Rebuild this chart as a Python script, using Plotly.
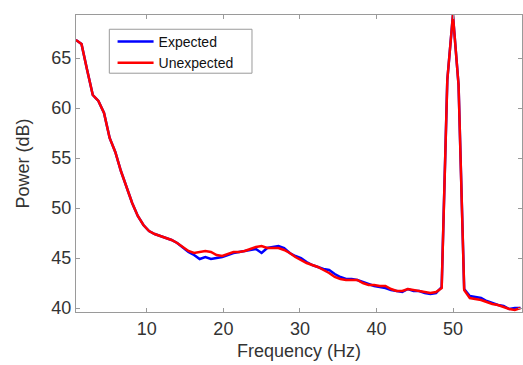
import plotly.graph_objects as go

freq = [0.735, 1.47, 2.205, 2.94, 3.675, 4.41, 5.145, 5.88, 6.615, 7.35,
        8.085, 8.82, 9.555, 10.29, 11.025, 11.76, 12.495, 13.23, 13.965, 14.7,
        15.435, 16.17, 16.905, 17.64, 18.375, 19.11, 19.845, 20.58, 21.315, 22.05,
        22.785, 23.52, 24.255, 24.99, 25.725, 26.46, 27.195, 27.93, 28.665, 29.4,
        30.135, 30.87, 31.605, 32.34, 33.075, 33.81, 34.545, 35.28, 36.015, 36.75,
        37.485, 38.22, 38.955, 39.69, 40.425, 41.16, 41.895, 42.63, 43.365, 44.1,
        44.835, 45.57, 46.305, 47.04, 47.775, 48.51, 49.245, 49.98, 50.715, 51.45,
        52.185, 52.92, 53.655, 54.39, 55.125, 55.86, 56.595, 57.33, 58.065, 58.8]

expected = [66.8, 66.4, 63.8, 61.3, 60.7, 59.5, 57.0, 55.6, 53.7, 52.0,
            50.5, 49.2, 48.3, 47.7, 47.4, 47.2, 47.0, 46.8, 46.5, 46.0,
            45.6, 45.3, 44.9, 45.1, 44.9, 45.0, 45.1, 45.3, 45.5, 45.6,
            45.7, 45.8, 45.9, 45.5, 46.0, 46.1, 46.2, 46.0, 45.5, 45.2,
            45.0, 44.6, 44.3, 44.1, 43.9, 43.8, 43.4, 43.1, 42.9, 42.9,
            42.8, 42.6, 42.4, 42.2, 42.1, 42.0, 41.8, 41.7, 41.6, 41.9,
            41.7, 41.7, 41.5, 41.4, 41.5, 42.1, 62.8, 69.3, 62.3, 41.9,
            41.2, 41.1, 41.0, 40.7, 40.5, 40.3, 40.2, 39.9, 40.0, 40.0]

unexpected = [66.8, 66.4, 63.8, 61.3, 60.7, 59.5, 57.0, 55.6, 53.7, 52.0,
              50.5, 49.2, 48.3, 47.7, 47.4, 47.2, 47.0, 46.8, 46.5, 46.1,
              45.7, 45.5, 45.6, 45.7, 45.6, 45.3, 45.2, 45.4, 45.6, 45.6,
              45.7, 45.9, 46.1, 46.2, 46.0, 46.0, 46.0, 45.8, 45.5, 45.1,
              44.8, 44.5, 44.3, 44.1, 43.8, 43.5, 43.1, 42.9, 42.8, 42.8,
              42.8, 42.5, 42.3, 42.3, 42.2, 42.2, 41.9, 41.7, 41.7, 41.9,
              41.8, 41.7, 41.6, 41.5, 41.6, 42.0, 62.8, 69.3, 62.3, 41.8,
              41.0, 40.9, 40.8, 40.6, 40.4, 40.3, 40.1, 39.9, 39.8, 40.0]

x_ticks = [10, 20, 30, 40, 50]
y_ticks = [40, 45, 50, 55, 60, 65]

fig = go.Figure()
fig.add_trace(go.Scatter(x=freq, y=expected, mode="lines", name="Expected",
                         line=dict(color="#0000ff", width=2.5)))
fig.add_trace(go.Scatter(x=freq, y=unexpected, mode="lines", name="Unexpected",
                         line=dict(color="#ff0000", width=2.5)))

axis_common = dict(showline=True, linecolor="#9a9a9a", linewidth=1.3, mirror="ticks",
                   ticks="inside", ticklen=4, tickcolor="#9a9a9a", showgrid=False,
                   zeroline=False, tickfont=dict(size=18, color="#333333"))

fig.update_xaxes(range=[0.75, 59.0], tickvals=x_ticks,
                 title=dict(text="Frequency (Hz)", font=dict(size=18, color="#333333"), standoff=6),
                 **axis_common)
fig.update_yaxes(range=[39.6, 69.3], tickvals=y_ticks,
                 title=dict(text="Power (dB)", font=dict(size=18, color="#333333"), standoff=16),
                 **axis_common)

# legend frame
fig.add_shape(type="rect", xref="paper", yref="paper",
              x0=0.0747, x1=0.3946, y0=0.804, y1=0.952,
              line=dict(color="#9a9a9a", width=1), fillcolor="white", layer="above")

fig.update_layout(
    width=523, height=365,
    margin=dict(l=76, r=1, t=15, b=53),
    paper_bgcolor="white", plot_bgcolor="white",
    font=dict(family="Liberation Sans, Arial, sans-serif"),
    showlegend=True,
    legend=dict(x=0.082, y=0.963, xanchor="left", yanchor="top",
                bgcolor="rgba(0,0,0,0)", borderwidth=0,
                font=dict(size=14, color="#111111"), itemwidth=36,
                tracegroupgap=0),
)

fig.write_html("out.html")
